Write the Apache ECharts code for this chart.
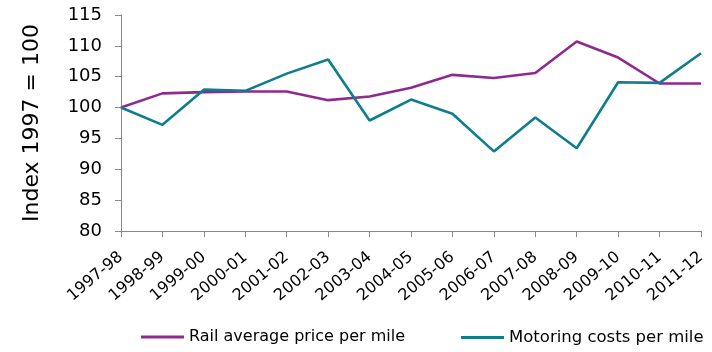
<!DOCTYPE html>
<html>
<head>
<meta charset="utf-8">
<script src="https://cdn.jsdelivr.net/npm/echarts@6/dist/echarts.min.js"></script>
<style>
html,body{margin:0;padding:0;background:#fff;}
#chart{width:712px;height:352px;}
</style>
</head>
<body>
<div id="chart"></div>
<script>
var categories = ["1997-98","1998-99","1999-00","2000-01","2001-02","2002-03","2003-04","2004-05","2005-06","2006-07","2007-08","2008-09","2009-10","2010-11","2011-12"];
var railValues = [100, 102.3, 102.5, 102.6, 102.6, 101.2, 101.8, 103.2, 105.3, 104.8, 105.6, 110.7, 108.1, 103.9, 103.9];
var motoringValues = [100, 97.2, 102.9, 102.7, 105.5, 107.8, 97.9, 101.3, 99.0, 92.9, 98.4, 93.4, 104.1, 104.0, 108.8];
var seriesNames = ["Rail average price per mile", "Motoring costs per mile"];
var yAxisTitle = "Index 1997 = 100";
var yMin = 80, yMax = 115, yStep = 5;

var FONT = "DejaVu Sans";
var chart = echarts.init(document.getElementById('chart'), null, {renderer: 'canvas'});
chart.setOption({
  animation: false,
  backgroundColor: '#ffffff',
  grid: {left: 121, right: 11, top: 15, bottom: 121, containLabel: false},
  legend: [
    {data: [seriesNames[0]], left: 141, top: 329, padding: 0, itemWidth: 43, itemHeight: 3, icon: 'rect',
     textStyle: {fontFamily: FONT, fontSize: 16, color: '#000'}},
    {data: [seriesNames[1]], left: 461, top: 329, padding: 0, itemWidth: 43, itemHeight: 3, icon: 'rect',
     textStyle: {fontFamily: FONT, fontSize: 16.5, color: '#000'}}
  ],
  xAxis: {
    type: 'category',
    data: categories,
    boundaryGap: false,
    axisLine: {lineStyle: {color: '#888888', width: 1}},
    axisTick: {show: true, length: 6, lineStyle: {color: '#888888'}},
    axisLabel: {rotate: 40, margin: 24, interval: 0, fontFamily: FONT, fontSize: 16, color: '#000'},
    splitLine: {show: false}
  },
  yAxis: {
    type: 'value',
    min: yMin, max: yMax, interval: yStep,
    name: yAxisTitle,
    nameLocation: 'middle',
    nameGap: 78,
    nameRotate: 90,
    nameTextStyle: {fontFamily: FONT, fontSize: 22, color: '#000'},
    axisLine: {show: true, lineStyle: {color: '#888888', width: 1}},
    axisTick: {show: true, length: 6, lineStyle: {color: '#888888'}},
    axisLabel: {margin: 19, fontFamily: FONT, fontSize: 18, color: '#000'},
    splitLine: {show: false}
  },
  series: [
    {name: seriesNames[0], type: 'line', data: railValues, symbol: 'none',
     lineStyle: {width: 2.6, color: '#8E2A8E'}, itemStyle: {color: '#8E2A8E'}},
    {name: seriesNames[1], type: 'line', data: motoringValues, symbol: 'none',
     lineStyle: {width: 2.6, color: '#0E7E8C'}, itemStyle: {color: '#0E7E8C'}}
  ]
});
</script>
</body>
</html>
